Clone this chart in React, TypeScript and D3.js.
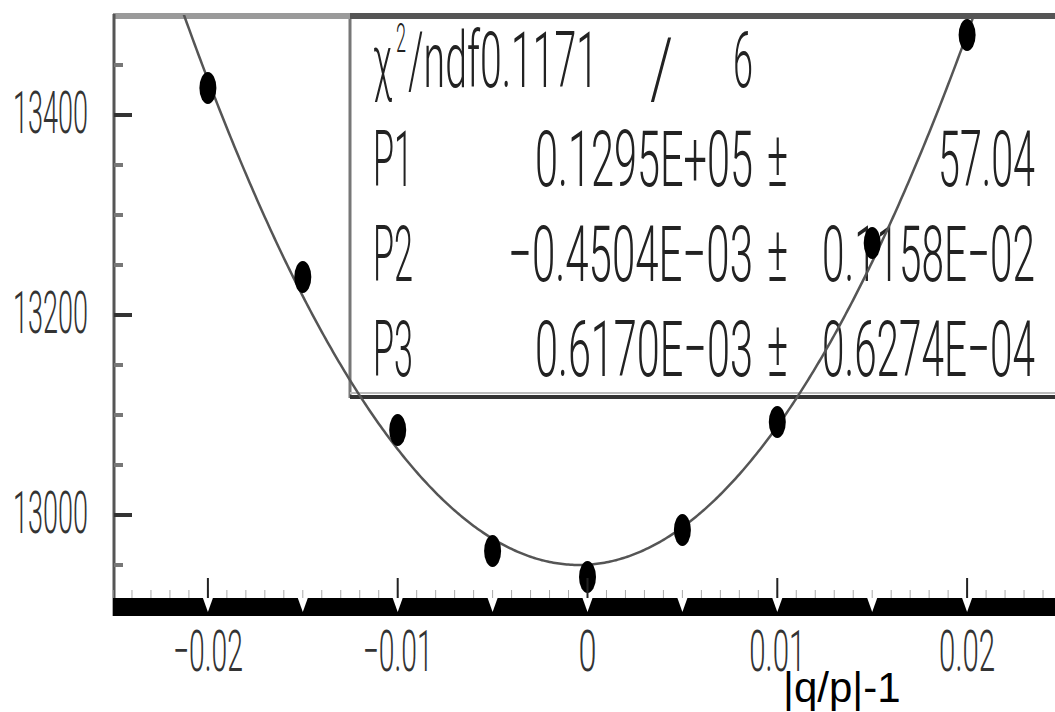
import React from "react";
import * as d3 from "d3";

// ---- data ----
const X_VALUES = [-0.02, -0.015, -0.01, -0.005, 0, 0.005, 0.01, 0.015, 0.02];
const Y_VALUES = [13427, 13238, 13085, 12964, 12938, 12985, 13093, 13272, 13480];

const X_TICKS = [-0.02, -0.01, 0, 0.01, 0.02];
const X_TICK_LABELS = ["\u22120.02", "\u22120.01", "0", "0.01", "0.02"];
const Y_TICKS = [13000, 13200, 13400];
const Y_TICK_LABELS = ["13000", "13200", "13400"];

const CHI2_LABEL = "0.1171";
const NDF_LABEL = "6";
const PAR_NAMES = ["P1", "P2", "P3"];
const PAR_VALUES = ["0.1295E+05", "\u22120.4504E\u221203", "0.6170E\u221203"];
const PAR_ERRORS = ["57.04", "0.1158E\u221202", "0.6274E\u221204"];

// fitted parabola: P1 + curvature * (x - P2)^2
const FIT_P1 = 12950;
const FIT_P2 = -0.4504e-3;
const FIT_CURVATURE = 1.27e6;

const X_TITLE = "|q/p|-1";

const W = 1055;
const H = 712;

const FONT = "Roboto, 'DejaVu Sans', sans-serif";

let ctx: CanvasRenderingContext2D | null = null;
function measure(str: string, size: number) {
  if (!ctx) {
    const c = document.createElement("canvas");
    ctx = c.getContext("2d");
  }
  if (!ctx) return str.length * size * 0.55;
  ctx.font = `300 ${size}px ${FONT}`;
  return ctx.measureText(str).width || str.length * size * 0.55;
}

// text squeezed horizontally to a given width
function Squeezed(props: {
  str: string;
  x: number;
  y: number;
  width: number;
  size: number;
  sy?: number;
  fill?: string;
}) {
  const { str, x, y, width, size, sy = 1, fill = "#222" } = props;
  const sx = width / measure(str, size);
  return (
    <text
      transform={`translate(${x},${y}) scale(${sx},${sy})`}
      fontSize={size}
      fontFamily={FONT}
      fontWeight={300}
      fill={fill}
    >
      {str}
    </text>
  );
}

export default function App() {
  const x = d3.scaleLinear().domain([-0.025, 0.025]).range([113, 1062]);
  const y = d3.scaleLinear().domain([12910, 13500]).range([605, 15]);

  const curveXs = d3.range(-0.025, 0.02501, 0.0001);
  const line = d3
    .line<number>()
    .x((d) => x(d))
    .y((d) => y(FIT_P1 + FIT_CURVATURE * (d - FIT_P2) * (d - FIT_P2)));

  const yMinor = d3.range(12950, 13500, 50).filter((v) => !Y_TICKS.includes(v));
  const xMinor = d3.range(-25, 26, 1).map((i) => i / 1000);
  const xHalf = d3.range(-4, 6, 1).map((i) => i * 0.005);

  const rowBase = [87, 186, 281, 376];
  const SZ = 78;

  return (
    <svg
      width={W}
      height={H}
      style={{ position: "absolute", left: 0, top: 0, background: "#fff" }}
    >
      <defs>
        <clipPath id="plotClip">
          <rect x={113} y={15} width={949} height={590} />
        </clipPath>
      </defs>
      <rect x={0} y={0} width={W} height={H} fill="#fff" />

      {/* statistics box */}
      <rect x={350} y={15} width={705} height={382} fill="#fff" />
      <line x1={350} y1={15} x2={350} y2={398} stroke="#777" strokeWidth={3} />
      <line x1={350} y1={393} x2={1055} y2={393} stroke="#bbb" strokeWidth={2} />
      <line x1={350} y1={397} x2={1055} y2={397} stroke="#333" strokeWidth={4} />

      {/* stats text */}
      <Squeezed str="χ" x={373} y={rowBase[0]} width={19} size={74} />
      <Squeezed str="2" x={396} y={52} width={10} size={40} />
      <Squeezed str={"/ndf" + CHI2_LABEL} x={408} y={rowBase[0]} width={190} size={SZ} />
      <Squeezed str="/" x={650} y={rowBase[0] + 10} width={23} size={40} sy={2.1} />
      <Squeezed str={NDF_LABEL} x={733} y={rowBase[0]} width={20} size={SZ} />

      {PAR_NAMES.map((n, i) => {
        const neg = PAR_VALUES[i].startsWith("\u2212");
        const ew = PAR_ERRORS[i].length > 6 ? 213 : 97;
        return (
          <g key={n}>
            <Squeezed str={n} x={373} y={rowBase[i + 1]} width={40} size={SZ} />
            <Squeezed
              str={PAR_VALUES[i]}
              x={neg ? 508 : 535}
              y={rowBase[i + 1]}
              width={neg ? 245 : 218}
              size={SZ}
            />
            <Squeezed str="±" x={767} y={rowBase[i + 1]} width={21} size={SZ} />
            <Squeezed str={PAR_ERRORS[i]} x={1035 - ew} y={rowBase[i + 1]} width={ew} size={SZ} />
          </g>
        );
      })}

      {/* top frame */}
      <line x1={113} y1={16} x2={350} y2={16} stroke="#9a9a9a" strokeWidth={6} />
      <line x1={350} y1={16} x2={1055} y2={16} stroke="#555" strokeWidth={6} />

      {/* fit curve */}
      <path
        d={line(curveXs) || ""}
        fill="none"
        stroke="#555"
        strokeWidth={2.5}
        clipPath="url(#plotClip)"
      />

      {/* data points */}
      {X_VALUES.map((xv, i) => (
        <ellipse
          key={i}
          cx={x(xv)}
          cy={y(Y_VALUES[i])}
          rx={8.5}
          ry={16}
          fill="#000"
        />
      ))}

      {/* left axis */}
      <line x1={114} y1={14} x2={114} y2={616} stroke="#555" strokeWidth={3} />
      {yMinor.map((v) => (
        <line key={v} x1={114} x2={123} y1={y(v)} y2={y(v)} stroke="#777" strokeWidth={4} />
      ))}
      {Y_TICKS.map((v, i) => (
        <g key={v}>
          <line x1={114} x2={132} y1={y(v)} y2={y(v)} stroke="#333" strokeWidth={4} />
          <Squeezed str={Y_TICK_LABELS[i]} x={13} y={y(v) + 18} width={75} size={60} fill="#333" />
        </g>
      ))}

      {/* bottom axis */}
      {xMinor.map((v) => (
        <line key={v} x1={x(v)} x2={x(v)} y1={590} y2={598} stroke="#aaa" strokeWidth={1} />
      ))}
      <rect x={113} y={598} width={942} height={18} fill="#000" />
      {xHalf.map((v) => (
        <path
          key={v}
          d={`M${x(v) - 5},598 L${x(v) + 5},598 L${x(v)},612 Z`}
          fill="#fff"
        />
      ))}
      {X_TICKS.map((v, i) => {
        const lab = X_TICK_LABELS[i];
        const w = lab === "0" ? 18 : lab.startsWith("\u2212") ? 70 : 56;
        return (
          <g key={v}>
            <line x1={x(v)} x2={x(v)} y1={578} y2={598} stroke="#222" strokeWidth={2} />
            <Squeezed str={lab} x={x(v) - w / 2} y={671} width={w} size={58} fill="#333" />
          </g>
        );
      })}

      <text
        x={783}
        y={702}
        fontSize={42}
        fontFamily="'Liberation Sans', Arial, sans-serif"
        fill="#000"
      >
        {X_TITLE}
      </text>
    </svg>
  );
}
